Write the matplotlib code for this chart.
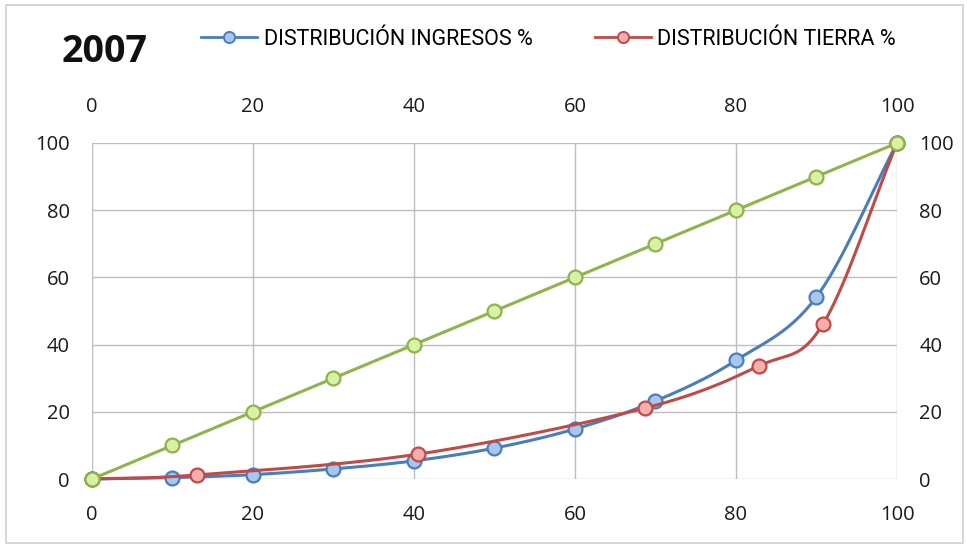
import numpy as np
import matplotlib
matplotlib.use("Agg")
import matplotlib.pyplot as plt
from matplotlib.lines import Line2D
from matplotlib.patches import Rectangle

plt.rcParams['font.family'] = ['Open Sans', 'DejaVu Sans']

title = "2007"
ticks = [0, 20, 40, 60, 80, 100]

ingresos_x = [0, 10, 20, 30, 40, 50, 60, 70, 80, 90, 100]
ingresos_y = [0, 0.4, 1.3, 3.0, 5.4, 9.2, 14.9, 23.2, 35.3, 54.2, 100]
ingresos_label = "DISTRIBUCIÓN INGRESOS %"

tierra_x = [0, 13, 40.5, 68.7, 82.8, 90.8, 100]
tierra_y = [0, 1.2, 7.4, 21.1, 33.6, 46.1, 100]
tierra_label = "DISTRIBUCIÓN TIERRA %"

equidad_x = [0, 10, 20, 30, 40, 50, 60, 70, 80, 90, 100]
equidad_y = [0, 10, 20, 30, 40, 50, 60, 70, 80, 90, 100]


def smooth(x, y, n=30):
    """Catmull-Rom style smoothing through the points (like Excel smoothed lines)."""
    x = np.asarray(x, float)
    y = np.asarray(y, float)
    px = np.concatenate([[2 * x[0] - x[1]], x, [2 * x[-1] - x[-2]]])
    py = np.concatenate([[2 * y[0] - y[1]], y, [2 * y[-1] - y[-2]]])
    xs, ys = [], []
    t = np.linspace(0, 1, n)
    for i in range(1, len(px) - 2):
        p0, p1, p2, p3 = (np.array([px[j], py[j]]) for j in range(i - 1, i + 3))
        c1 = p1 + (p2 - p0) / 6.0
        c2 = p2 - (p3 - p1) / 6.0
        for tt in t:
            b = ((1 - tt) ** 3) * p1 + 3 * ((1 - tt) ** 2) * tt * c1 + 3 * (1 - tt) * tt ** 2 * c2 + tt ** 3 * p2
            xs.append(b[0]); ys.append(b[1])
    return np.array(xs), np.array(ys)


fig = plt.figure(figsize=(9.67, 5.47), dpi=100)
ax = fig.add_axes([0.0951, 0.1243, 0.8325, 0.6143])

blue, blue_face = "#4A7EBB", "#A9C6EC"
red, red_face = "#BE4B48", "#F4AFAD"
green, green_face = "#8EB44A", "#D9F0A6"

for xs, ys, col, face, z, sm in [
    (ingresos_x, ingresos_y, blue, blue_face, 3, True),
    (tierra_x, tierra_y, red, red_face, 4, True),
    (equidad_x, equidad_y, green, green_face, 5, False),
]:
    sx, sy = smooth(xs, ys) if sm else (np.array(xs), np.array(ys))
    ax.plot(sx, sy, color=col, lw=2.2, zorder=z, clip_on=False, solid_capstyle='round')
    ax.plot(xs, ys, ls='none', marker='o', ms=10, mfc=face, mec=col, mew=1.6,
            zorder=z + 0.5, clip_on=False)

ax.set_xlim(0, 100)
ax.set_ylim(0, 100)
ax.set_xticks(ticks)
ax.set_yticks(ticks)
ax.grid(True, color="#BDBDBD", lw=1.0)
ax.set_axisbelow(True)
for s in ax.spines.values():
    s.set_visible(False)
ax.tick_params(axis='both', length=0, labelsize=14.5, colors="#1A1A1A",
               top=False, labeltop=True, right=False, labelright=True)
ax.tick_params(axis='x', pad=19)
ax.tick_params(axis='y', pad=16)

fig.text(0.064, 0.905, title, fontsize=27, fontweight='bold', ha='left', va='center', color='#111111')

handles = [
    Line2D([0], [0], color=blue, lw=2, marker='o', ms=8, mfc=blue_face, mec=blue, mew=1.4),
    Line2D([0], [0], color=red, lw=2, marker='o', ms=8, mfc=red_face, mec=red, mew=1.4),
]
fig.legend(handles, [ingresos_label, tierra_label], loc='center left',
           bbox_to_anchor=(0.188, 0.928), ncol=2, frameon=False,
           prop={'family': 'Roboto', 'size': 15.5},
           handlelength=2.6, columnspacing=2.9, handletextpad=0.3)

fig.patches.append(Rectangle((0.006, 0.008), 0.99, 0.983, transform=fig.transFigure,
                             fill=False, edgecolor="#D0D0D0", lw=1.2))

fig.savefig("out.png", dpi=100)
